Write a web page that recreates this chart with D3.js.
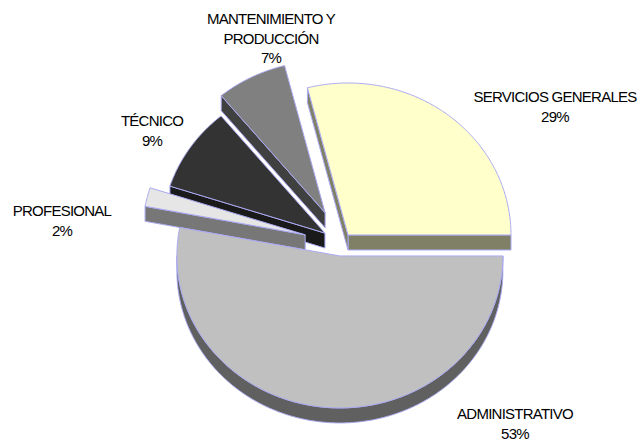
<!DOCTYPE html>
<html>
<head>
<meta charset="utf-8">
<script src="https://cdn.jsdelivr.net/npm/d3@7"></script>
<style>
  html, body { margin: 0; padding: 0; background: #ffffff; }
  svg { display: block; }
  text { font-family: "Liberation Sans", Arial, sans-serif; font-size: 15px; letter-spacing: -0.75px; fill: #000; }
</style>
</head>
<body>
<svg id="chart" width="644" height="448"></svg>
<script>
// ---- data ----
const categories = ["SERVICIOS GENERALES", "MANTENIMIENTO Y PRODUCCIÓN", "TÉCNICO", "PROFESIONAL", "ADMINISTRATIVO"];
const values = [29, 7, 9, 2, 53];
const labelLines = [["SERVICIOS GENERALES"], ["MANTENIMIENTO Y", "PRODUCCIÓN"], ["TÉCNICO"], ["PROFESIONAL"], ["ADMINISTRATIVO"]];

// ---- style / layout ----
const topColors = ["#ffffcc", "#808080", "#333333", "#e6e6e6", "#c0c0c0"];
const sideColors = ["#808066", "#404040", "#1a1a1a", "#777777", "#606060"];
const explode = [11.4, 35, 19.4, 37, 12];
const labelAnchor = [[555, 102], [271, 24], [152, 126], [62, 216], [515, 419]];
const drawOrder = [1, 0, 2, 3, 4];
const cx0 = 341, cy0 = 244, rx = 163, ry = 152, depth = 15;
const strokeCol = "#a9a9f2";

const svg = d3.select("#chart");
const total = d3.sum(values);
const fmt = d3.format(".0%");

const pie = d3.pie().sort(null).value(d => d)
  .startAngle(Math.PI / 2).endAngle(Math.PI / 2 - 2 * Math.PI);
const arcs = pie(values).map((a, i) => {
  const t0 = Math.PI / 2 - a.startAngle;
  const t1 = Math.PI / 2 - a.endAngle;
  const mid = (t0 + t1) / 2;
  return { i, t0, t1, cx: cx0 + explode[i] * Math.cos(mid), cy: cy0 - explode[i] * Math.sin(mid) };
});

const line = d3.line().curve(d3.curveLinearClosed);
function P(a, t, dz) { return [a.cx + rx * Math.cos(t), a.cy - ry * Math.sin(t) + (dz || 0)]; }
function arcPts(a, s, e, dz) {
  const n = Math.max(2, Math.ceil((e - s) / (Math.PI / 360)));
  return d3.range(n + 1).map(k => P(a, s + (e - s) * k / n, dz));
}

const g = svg.append("g");
drawOrder.forEach(i => {
  const a = arcs[i];
  const gs = g.append("g").attr("class", "slice");
  const c = [a.cx, a.cy], cb = [a.cx, a.cy + depth];
  // cut face at start angle
  if (Math.cos(a.t0) > 1e-9) {
    gs.append("path").attr("d", line([c, P(a, a.t0), P(a, a.t0, depth), cb]))
      .attr("fill", sideColors[i]).attr("stroke", strokeCol).attr("stroke-width", 1);
  }
  // cut face at end angle
  if (Math.cos(a.t1) < -1e-9) {
    gs.append("path").attr("d", line([c, P(a, a.t1), P(a, a.t1, depth), cb]))
      .attr("fill", sideColors[i]).attr("stroke", strokeCol).attr("stroke-width", 1);
  }
  // outer rim (front half)
  const rs = Math.max(a.t0, Math.PI), re = Math.min(a.t1, 2 * Math.PI);
  if (re > rs) {
    const pts = arcPts(a, rs, re, 0).concat(arcPts(a, rs, re, depth).reverse());
    gs.append("path").attr("d", line(pts))
      .attr("fill", sideColors[i]).attr("stroke", strokeCol).attr("stroke-width", 1);
  }
  // top face
  gs.append("path").attr("d", line([c].concat(arcPts(a, a.t0, a.t1, 0))))
    .attr("fill", topColors[i]).attr("stroke", strokeCol).attr("stroke-width", 1)
    .attr("stroke-linejoin", "round");
});

// labels
const lg = svg.append("g");
arcs.forEach(a => {
  const i = a.i;
  const [x, y] = labelAnchor[i];
  const lines = labelLines[i].concat([fmt(values[i] / total)]);
  const t = lg.append("text").attr("text-anchor", "middle").attr("x", x).attr("y", y);
  lines.forEach((s, k) => {
    t.append("tspan").attr("x", x).attr("y", y + k * 19.5).text(s);
  });
});
</script>
</body>
</html>
